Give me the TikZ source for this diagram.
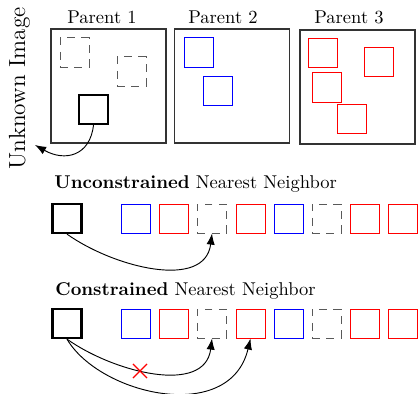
\documentclass[tikz,border=0pt]{standalone}
\usetikzlibrary{arrows.meta,shapes.misc}
\begin{document}
\begin{tikzpicture}[x=0.54pt,y=-0.54pt,
  patch/.style={draw, minimum size=15.7pt, inner sep=0pt, line width=0.5pt},
  query/.style={patch, line width=1.2pt},
  unk/.style={patch, draw=black!65, dash pattern=on 4.3pt off 3.5pt},
  bl/.style={patch, draw=blue},
  rd/.style={patch, draw=red},
  parent/.style={draw=black!80, line width=0.6pt, minimum width=62.1pt,
    minimum height=61.6pt, inner sep=0pt},
  lbl/.style={anchor=base, inner sep=0pt},
  title/.style={anchor=base west, inner sep=0pt},
  link/.style={-{Latex[length=6pt,width=4.5pt]}, line width=0.5pt},
  reject/.style={cross out, draw=red, line width=0.6pt, minimum size=7pt, inner sep=0pt},
]
\useasboundingbox (0,0) rectangle (419,394);

% parent images
\node[parent] (p1) at (108.5,86) {};
\node[parent] (p2) at (232,86) {};
\node[parent] (p3) at (357.5,87) {};
\node[lbl] (l1) at (102,23.5) {Parent 1};
\node[lbl] (l2) at (223,23.5) {Parent 2};
\node[lbl] (l3) at (349,23.5) {Parent 3};

% patches inside the parents
\node[unk] (u1) at (74.5,52.5) {};
\node[unk] (u2) at (131.5,71.5) {};
\node[query] (q) at (93.5,109.5) {};
\node[bl] (b1) at (198.5,52.5) {};
\node[bl] (b2) at (217.5,91) {};
\node[rd] (r1) at (322.5,53) {};
\node[rd] (r2) at (379,62) {};
\node[rd] (r3) at (326.5,87.5) {};
\node[rd] (r4) at (351.5,119) {};

\node[rotate=90, anchor=base, inner sep=0pt, font=\fontsize{12.6}{15}\selectfont] (unknown) at (25,88.5) {Unknown Image};
\coordinate (tip) at (35,145);
\draw[link] (q.south) .. controls (90,156) and (65,162) .. (tip);

% unconstrained search
\node[title] (t1) at (54,188) {\textbf{Unconstrained} Nearest Neighbor};
\node[query] (aq) at (67,218.5) {};
\node[bl]  (a1) at (135.5,218.5) {};
\node[rd]  (a2) at (174,218.5) {};
\node[unk] (a3) at (212,218.5) {};
\node[rd]  (a4) at (250.5,218.5) {};
\node[bl]  (a5) at (288.5,218.5) {};
\node[unk] (a6) at (326.5,218.5) {};
\node[rd]  (a7) at (364.5,218.5) {};
\node[rd]  (a8) at (402.5,218.5) {};
\draw[link] (aq.south) .. controls (115,268) and (205,290) .. (a3.south);

% constrained search
\node[title] (t2) at (55,295) {\textbf{Constrained} Nearest Neighbor};
\node[query] (cq) at (67,323.5) {};
\node[bl]  (c1) at (135.5,323.5) {};
\node[rd]  (c2) at (174,323.5) {};
\node[unk] (c3) at (212,323.5) {};
\node[rd]  (c4) at (250.5,323.5) {};
\node[bl]  (c5) at (288.5,323.5) {};
\node[unk] (c6) at (326.5,323.5) {};
\node[rd]  (c7) at (364.5,323.5) {};
\node[rd]  (c8) at (402.5,323.5) {};
\draw[link] (cq.south) .. controls (115,373) and (205,395) .. (c3.south);
\draw[link] (cq.south) .. controls (100,395) and (230,425) .. (c4.south);
\node[reject] (x) at (140,371) {};
\end{tikzpicture}
\end{document}
